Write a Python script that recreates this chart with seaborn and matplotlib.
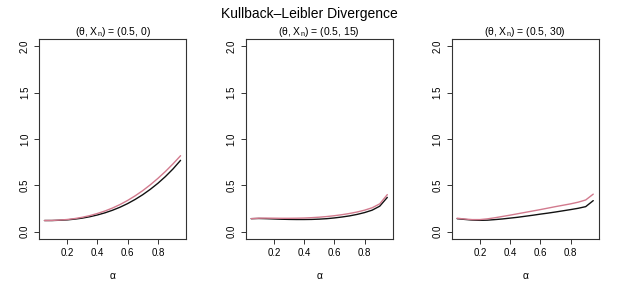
import pandas as pd
import matplotlib
matplotlib.use("Agg")
import matplotlib.pyplot as plt
import seaborn as sns

# alpha grid shared by all panels
alpha = [0.05, 0.10, 0.15, 0.20, 0.25, 0.30, 0.35, 0.40, 0.45, 0.50,
         0.55, 0.60, 0.65, 0.70, 0.75, 0.80, 0.85, 0.90, 0.95]

# panel 1: (theta, X_n) = (0.5, 0)
kl_black_0 = [0.120, 0.120, 0.123, 0.127, 0.135, 0.146, 0.161, 0.180, 0.203, 0.231,
              0.264, 0.303, 0.348, 0.399, 0.457, 0.522, 0.595, 0.677, 0.770]
kl_pink_0 = [0.120, 0.121, 0.125, 0.131, 0.141, 0.155, 0.173, 0.196, 0.223, 0.255,
             0.293, 0.337, 0.387, 0.443, 0.506, 0.575, 0.650, 0.732, 0.820]

# panel 2: (theta, X_n) = (0.5, 15)
kl_black_15 = [0.140, 0.142, 0.140, 0.137, 0.134, 0.132, 0.131, 0.131, 0.132, 0.135,
               0.140, 0.148, 0.158, 0.170, 0.186, 0.206, 0.232, 0.275, 0.370]
kl_pink_15 = [0.140, 0.145, 0.146, 0.145, 0.144, 0.144, 0.145, 0.147, 0.151, 0.156,
              0.163, 0.172, 0.183, 0.196, 0.212, 0.232, 0.258, 0.300, 0.400]

# panel 3: (theta, X_n) = (0.5, 30)
kl_black_30 = [0.140, 0.132, 0.125, 0.122, 0.124, 0.130, 0.137, 0.146, 0.155, 0.166,
               0.177, 0.189, 0.200, 0.212, 0.225, 0.238, 0.252, 0.270, 0.335]
kl_pink_30 = [0.145, 0.136, 0.130, 0.130, 0.138, 0.150, 0.164, 0.178, 0.193, 0.208,
              0.223, 0.238, 0.254, 0.270, 0.285, 0.300, 0.318, 0.342, 0.405]

xn_values = [0, 15, 30]
series_black = [kl_black_0, kl_black_15, kl_black_30]
series_pink = [kl_pink_0, kl_pink_15, kl_pink_30]


def plot():
    sns.set_theme(style="ticks")
    plt.rcParams['font.family'] = ['Liberation Sans', 'DejaVu Sans']
    plt.rcParams['mathtext.fontset'] = 'custom'
    plt.rcParams['mathtext.rm'] = 'Liberation Sans'
    plt.rcParams['mathtext.default'] = 'regular'
    plt.rcParams['text.color'] = 'black'
    plt.rcParams['axes.labelcolor'] = 'black'

    fig = plt.figure(figsize=(6.19, 2.88), dpi=100)
    lefts = [0.063, 0.397, 0.7297]
    for xn, blk, pnk, left in zip(xn_values, series_black, series_pink, lefts):
        ax = fig.add_axes([left, 0.170, 0.2375, 0.6944])
        df = pd.DataFrame({
            'alpha': alpha * 2,
            'kl': blk + pnk,
            'method': ['a'] * len(alpha) + ['b'] * len(alpha),
        })
        sns.lineplot(data=df, x='alpha', y='kl', hue='method',
                     palette={'a': '#111111', 'b': '#d27a8e'},
                     linewidth=1.0, legend=False, ax=ax)
        ax.set_xlim(0.014, 0.986)
        ax.set_ylim(-0.08, 2.08)
        ax.set_xticks([0.2, 0.4, 0.6, 0.8])
        ax.set_yticks([0.0, 0.5, 1.0, 1.5, 2.0])
        ax.set_xticklabels(['0.2', '0.4', '0.6', '0.8'])
        ax.set_yticklabels(['0.0', '0.5', '1.0', '1.5', '2.0'],
                           rotation=90, va='center')
        ax.tick_params(axis='both', length=3.6, width=0.7, labelsize=7,
                       pad=3, color='#333333', labelcolor='black')
        for sp in ax.spines.values():
            sp.set_visible(True)
            sp.set_linewidth(0.8)
            sp.set_color('#333333')
        ax.set_xlabel('α', fontsize=7.5, labelpad=9)
        ax.set_ylabel('')
        ax.set_title('(θ, X$_n$) = (0.5, %d)' % xn, fontsize=7.5, pad=2)

    fig.suptitle('Kullback–Leibler Divergence', fontsize=10, y=0.975)
    fig.savefig('out.png', dpi=100)


if __name__ == "__main__":
    plot()
